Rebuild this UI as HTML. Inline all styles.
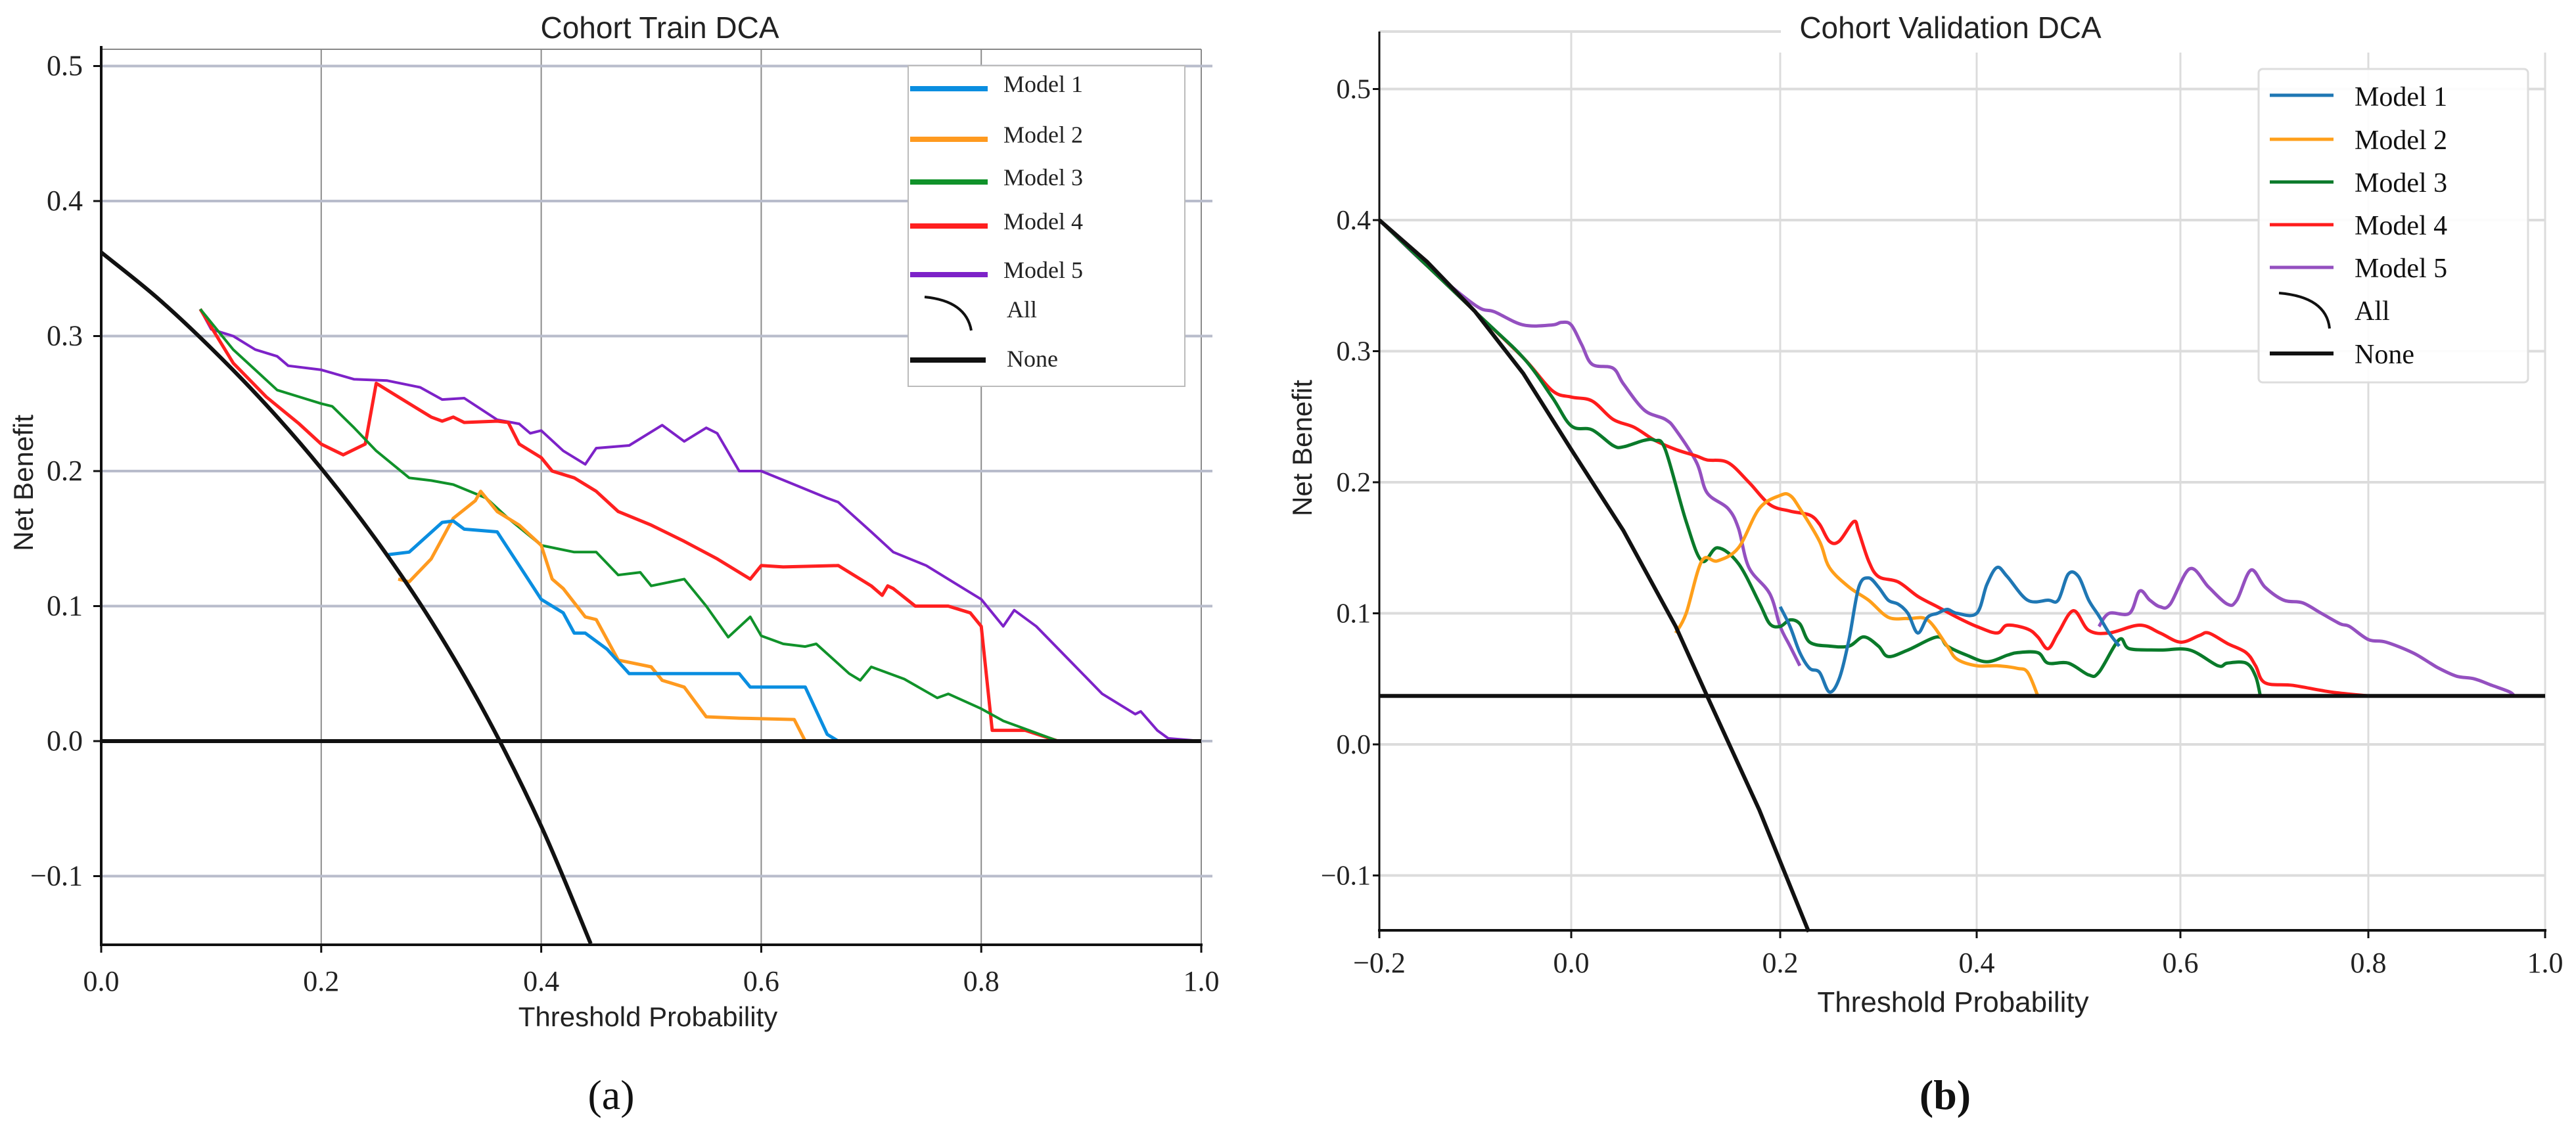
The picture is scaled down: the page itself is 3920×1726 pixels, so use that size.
<!DOCTYPE html>
<html><head><meta charset="utf-8"><style>
html,body{margin:0;padding:0;background:#fff;}
svg{display:block;}
</style></head><body>
<svg id="fig" width="3920" height="1726" viewBox="0 0 3920 1726" xmlns="http://www.w3.org/2000/svg">
<rect width="3920" height="1726" fill="#fff"/>
<g id="left"></g>
<g id="right"></g>
</svg>
<script>
// ---------- Panel (a) data ----------
const aXTicks = [0.0, 0.2, 0.4, 0.6, 0.8, 1.0];
const aYTicks = [-0.1, 0.0, 0.1, 0.2, 0.3, 0.4, 0.5];
const aAll = [[0,0.362],[0.05,0.329],[0.1,0.291],[0.15,0.249],[0.2,0.202],[0.25,0.149],[0.3,0.089],[0.35,0.019],[0.4,-0.063],[0.445,-0.15]];
const aNone = [[0,0],[1,0]];
const aM1 = [[0.26,0.138],[0.28,0.14],[0.31,0.162],[0.32,0.163],[0.33,0.157],[0.36,0.155],[0.38,0.13],[0.40,0.105],[0.42,0.095],[0.43,0.08],[0.44,0.08],[0.46,0.068],[0.48,0.05],[0.52,0.05],[0.58,0.05],[0.59,0.04],[0.64,0.04],[0.66,0.005],[0.67,0.0]];
const aM2 = [[0.27,0.12],[0.28,0.118],[0.30,0.135],[0.32,0.165],[0.34,0.178],[0.345,0.185],[0.36,0.17],[0.38,0.16],[0.40,0.145],[0.41,0.12],[0.42,0.113],[0.44,0.092],[0.45,0.09],[0.47,0.06],[0.50,0.055],[0.51,0.045],[0.53,0.04],[0.55,0.018],[0.58,0.017],[0.63,0.016],[0.64,0.0]];
const aM3 = [[0.09,0.32],[0.12,0.29],[0.14,0.275],[0.16,0.26],[0.18,0.255],[0.20,0.25],[0.21,0.248],[0.23,0.232],[0.25,0.215],[0.28,0.195],[0.30,0.193],[0.32,0.19],[0.35,0.18],[0.37,0.165],[0.40,0.145],[0.43,0.14],[0.45,0.14],[0.47,0.123],[0.49,0.125],[0.50,0.115],[0.53,0.12],[0.55,0.1],[0.57,0.077],[0.59,0.092],[0.60,0.078],[0.62,0.072],[0.64,0.07],[0.65,0.072],[0.68,0.05],[0.69,0.045],[0.70,0.055],[0.73,0.046],[0.76,0.032],[0.77,0.035],[0.80,0.024],[0.82,0.015],[0.84,0.009],[0.87,0.0],[1.0,0.0]];
const aM4 = [[0.09,0.32],[0.12,0.28],[0.15,0.255],[0.18,0.235],[0.20,0.22],[0.22,0.212],[0.24,0.22],[0.25,0.265],[0.27,0.255],[0.30,0.24],[0.31,0.237],[0.32,0.24],[0.33,0.236],[0.36,0.237],[0.37,0.236],[0.38,0.22],[0.40,0.21],[0.41,0.2],[0.43,0.195],[0.45,0.185],[0.47,0.17],[0.50,0.16],[0.53,0.148],[0.56,0.135],[0.59,0.12],[0.60,0.13],[0.62,0.129],[0.67,0.13],[0.70,0.115],[0.71,0.108],[0.715,0.115],[0.72,0.113],[0.74,0.1],[0.77,0.1],[0.79,0.095],[0.80,0.085],[0.81,0.008],[0.84,0.008],[0.87,0.0],[1.0,0.0]];
const aM5 = [[0.09,0.32],[0.1,0.305],[0.12,0.30],[0.14,0.29],[0.16,0.285],[0.17,0.278],[0.2,0.275],[0.23,0.268],[0.26,0.267],[0.29,0.262],[0.31,0.253],[0.33,0.254],[0.36,0.238],[0.38,0.235],[0.39,0.228],[0.40,0.23],[0.42,0.215],[0.44,0.205],[0.45,0.217],[0.48,0.219],[0.51,0.234],[0.53,0.222],[0.55,0.232],[0.56,0.228],[0.58,0.2],[0.60,0.2],[0.63,0.19],[0.66,0.18],[0.67,0.177],[0.70,0.155],[0.72,0.14],[0.75,0.13],[0.78,0.115],[0.80,0.105],[0.82,0.085],[0.83,0.097],[0.85,0.085],[0.88,0.06],[0.91,0.035],[0.94,0.02],[0.945,0.022],[0.96,0.008],[0.97,0.002],[1.0,0.0]];

// ---------- Panel (b) data ----------
const bXTicks = [-0.2, 0.0, 0.2, 0.4, 0.6, 0.8, 1.0];
const bYTicks = [-0.1, 0.0, 0.1, 0.2, 0.3, 0.4, 0.5];
const bAll = [[-0.2,0.4],[-0.15,0.368],[-0.1,0.33],[-0.05,0.283],[0.0,0.225],[0.05,0.163],[0.1,0.09],[0.13,0.037],[0.18,-0.05],[0.229,-0.143]];
const bNone = [[-0.2,0.037],[1.0,0.037]];
const bM1 = [[0.20,0.105],[0.21,0.09],[0.22,0.07],[0.23,0.058],[0.24,0.055],[0.25,0.04],[0.26,0.05],[0.27,0.08],[0.28,0.12],[0.29,0.127],[0.30,0.12],[0.31,0.11],[0.32,0.107],[0.33,0.1],[0.34,0.085],[0.35,0.097],[0.36,0.1],[0.37,0.103],[0.38,0.1],[0.40,0.1],[0.41,0.122],[0.42,0.135],[0.43,0.128],[0.45,0.11],[0.47,0.11],[0.48,0.11],[0.49,0.13],[0.50,0.128],[0.51,0.11],[0.52,0.098],[0.53,0.085],[0.54,0.075]];
const bM2 = [[0.10,0.085],[0.11,0.1],[0.125,0.14],[0.14,0.14],[0.16,0.15],[0.18,0.18],[0.20,0.19],[0.21,0.19],[0.22,0.18],[0.24,0.155],[0.25,0.135],[0.27,0.12],[0.29,0.11],[0.31,0.097],[0.33,0.096],[0.35,0.095],[0.37,0.075],[0.38,0.065],[0.40,0.06],[0.42,0.06],[0.44,0.058],[0.45,0.055],[0.46,0.037]];
const bM3 = [[-0.2,0.4],[-0.1,0.33],[-0.05,0.295],[-0.02,0.265],[0.0,0.243],[0.02,0.24],[0.04,0.228],[0.05,0.227],[0.07,0.232],[0.08,0.232],[0.09,0.225],[0.11,0.17],[0.125,0.14],[0.14,0.15],[0.16,0.138],[0.18,0.108],[0.19,0.092],[0.2,0.09],[0.21,0.095],[0.22,0.092],[0.23,0.078],[0.25,0.075],[0.27,0.075],[0.285,0.082],[0.30,0.075],[0.31,0.067],[0.33,0.072],[0.36,0.082],[0.37,0.075],[0.39,0.068],[0.41,0.063],[0.43,0.068],[0.44,0.07],[0.46,0.07],[0.47,0.062],[0.49,0.062],[0.51,0.053],[0.52,0.055],[0.54,0.08],[0.55,0.073],[0.58,0.072],[0.61,0.072],[0.64,0.06],[0.65,0.062],[0.67,0.062],[0.68,0.052],[0.685,0.037]];
const bM4 = [[-0.2,0.4],[-0.1,0.33],[-0.05,0.295],[-0.02,0.27],[0.0,0.265],[0.02,0.262],[0.04,0.248],[0.06,0.242],[0.08,0.232],[0.10,0.225],[0.12,0.22],[0.13,0.217],[0.15,0.215],[0.17,0.2],[0.19,0.183],[0.21,0.178],[0.23,0.175],[0.24,0.168],[0.25,0.155],[0.26,0.155],[0.275,0.17],[0.28,0.162],[0.29,0.14],[0.30,0.128],[0.32,0.124],[0.34,0.113],[0.36,0.105],[0.38,0.097],[0.40,0.09],[0.42,0.085],[0.43,0.091],[0.45,0.088],[0.46,0.082],[0.47,0.073],[0.48,0.085],[0.495,0.102],[0.51,0.087],[0.53,0.085],[0.56,0.091],[0.58,0.085],[0.60,0.078],[0.62,0.083],[0.63,0.085],[0.65,0.077],[0.67,0.07],[0.68,0.06],[0.69,0.047],[0.72,0.045],[0.76,0.04],[0.80,0.037]];
const bM5a = [[-0.2,0.4],[-0.15,0.365],[-0.1,0.335],[-0.08,0.33],[-0.05,0.32],[-0.02,0.32],[-0.01,0.322],[0.0,0.32],[0.01,0.305],[0.02,0.29],[0.04,0.287],[0.05,0.275],[0.07,0.255],[0.09,0.248],[0.10,0.24],[0.12,0.215],[0.13,0.192],[0.15,0.18],[0.16,0.165],[0.17,0.135],[0.19,0.115],[0.20,0.09],[0.21,0.075],[0.22,0.06]];
const bM5b = [[0.52,0.09],[0.53,0.1],[0.55,0.1],[0.56,0.117],[0.57,0.11],[0.58,0.105],[0.59,0.107],[0.61,0.134],[0.63,0.12],[0.65,0.107],[0.66,0.11],[0.675,0.133],[0.69,0.12],[0.71,0.11],[0.73,0.108],[0.75,0.1],[0.77,0.092],[0.78,0.09],[0.80,0.08],[0.82,0.078],[0.85,0.07],[0.87,0.062],[0.88,0.058],[0.90,0.052],[0.92,0.05],[0.94,0.045],[0.96,0.04],[0.965,0.037]];

const legendNames = ['Model 1','Model 2','Model 3','Model 4','Model 5','All','None'];
const colorsA = ['#0a8ee0','#ff9a1f','#10922a','#ff2020','#7d22c8'];
const colorsB = ['#1f77b4','#ff9f1a','#0a7a2a','#ff1c1c','#9450c0'];

const NS = 'http://www.w3.org/2000/svg';
function mk(parent, tag, attrs, text){
  const e = document.createElementNS(NS, tag);
  for (const k in attrs) e.setAttribute(k, attrs[k]);
  if (text !== undefined) e.textContent = text;
  parent.appendChild(e);
  return e;
}
const ax = v => 154 + v*(1828-154);
const ay = v => 1128 - v*2055;
const bTickPx = [2099, 2391, 2709, 3008, 3318, 3604, 3873];
function bx(v){
  const t = (v+0.2)/0.2;
  let i = Math.floor(t); if (i<0) i=0; if (i>5) i=5;
  const f = t - i;
  return bTickPx[i] + f*(bTickPx[i+1]-bTickPx[i]);
}
const by = v => 1133 - v*1995;

function pathLinear(pts, X, Y){
  return pts.map((p,i)=>(i?'L':'M')+X(p[0]).toFixed(1)+','+Y(p[1]).toFixed(1)).join(' ');
}
function pathSmooth(pts, X, Y){
  const P = pts.map(p=>[X(p[0]),Y(p[1])]);
  let d = 'M'+P[0][0].toFixed(1)+','+P[0][1].toFixed(1);
  for (let i=0;i<P.length-1;i++){
    const p0=P[i-1]||P[i], p1=P[i], p2=P[i+1], p3=P[i+2]||P[i+1];
    const c1=[p1[0]+(p2[0]-p0[0])/6, p1[1]+(p2[1]-p0[1])/6];
    const c2=[p2[0]-(p3[0]-p1[0])/6, p2[1]-(p3[1]-p1[1])/6];
    d += ' C'+c1[0].toFixed(1)+','+c1[1].toFixed(1)+' '+c2[0].toFixed(1)+','+c2[1].toFixed(1)+' '+p2[0].toFixed(1)+','+p2[1].toFixed(1);
  }
  return d;
}

// ================= Panel A =================
const L = document.getElementById('left');
aXTicks.forEach(v=>{
  const g = mk(L,'line',{x1:ax(v),x2:ax(v),y1:75,y2:1438,stroke:'#8a8a8a','stroke-width':2});
  
  
});
aYTicks.forEach(v=>{
  const g = mk(L,'line',{x1:154,x2:1845,y1:ay(v),y2:ay(v),stroke:'#b8bccb','stroke-width':4});
  
  
});
mk(L,'line',{x1:154,x2:1828,y1:75,y2:75,stroke:'#888','stroke-width':2,});
function drawA(pts,color,w,name){
  const p = mk(L,'path',{d:pathLinear(pts,ax,ay),fill:'none',stroke:color,'stroke-width':w,'stroke-linejoin':'round'});
  
  
}
drawA(aM5,colorsA[4],4,'train-model-5-line');
drawA(aM4,colorsA[3],5,'train-model-4-line');
drawA(aM3,colorsA[2],4,'train-model-3-line');
drawA(aM2,colorsA[1],5,'train-model-2-line');
drawA(aM1,colorsA[0],5,'train-model-1-line');
const aAllP = mk(L,'path',{d:pathSmooth(aAll,ax,ay),fill:'none',stroke:'#111','stroke-width':6});


const aNoneP = mk(L,'path',{d:pathLinear(aNone,ax,ay),fill:'none',stroke:'#111','stroke-width':6});


mk(L,'line',{x1:154,x2:154,y1:70,y2:1440,stroke:'#111','stroke-width':4,});
mk(L,'line',{x1:152,x2:1830,y1:1438,y2:1438,stroke:'#111','stroke-width':4,});
aXTicks.forEach(v=>{
  const t = mk(L,'line',{x1:ax(v),x2:ax(v),y1:1438,y2:1450,stroke:'#111','stroke-width':3});
  
  
  const s = mk(L,'text',{x:ax(v),y:1508,'text-anchor':'middle','font-family':'Liberation Serif, serif','font-size':44,fill:'#222'},v.toFixed(1));
  
  
});
aYTicks.forEach(v=>{
  const t = mk(L,'line',{x1:142,x2:154,y1:ay(v),y2:ay(v),stroke:'#111','stroke-width':3});
  
  
  const s = mk(L,'text',{x:126,y:ay(v)+14,'text-anchor':'end','font-family':'Liberation Serif, serif','font-size':44,fill:'#222'},(v<0?'\u2212':'')+Math.abs(v).toFixed(1));
  
  
});
mk(L,'text',{x:1004,y:58,'text-anchor':'middle','font-family':'Liberation Sans, sans-serif','font-size':46,fill:'#222',},'Cohort Train DCA');
mk(L,'text',{x:986,y:1562,'text-anchor':'middle','font-family':'Liberation Sans, sans-serif','font-size':42,fill:'#222',},'Threshold Probability');
mk(L,'text',{x:50,y:735,'text-anchor':'middle','font-family':'Liberation Sans, sans-serif','font-size':42,fill:'#222',transform:'rotate(-90 50 735)',},'Net Benefit');
mk(L,'text',{x:930,y:1688,'text-anchor':'middle','font-family':'Liberation Serif, serif','font-size':64,fill:'#111',},'(a)');
mk(L,'rect',{x:1382,y:100,width:421,height:488,fill:'#fff',stroke:'#bbb','stroke-width':2,});
const aLegY = [135,212,277,344,418,483,548];
legendNames.forEach((n,i)=>{
  const y = aLegY[i];
  if (i<5){
    const l = mk(L,'line',{x1:1385,x2:1503,y1:y,y2:y,stroke:colorsA[i],'stroke-width':8});
    
    
  } else if (i===5){
    const l = mk(L,'path',{d:'M1407,452 Q1470,458 1478,503',fill:'none',stroke:'#111','stroke-width':4});
    
    
  } else {
    const l = mk(L,'line',{x1:1385,x2:1500,y1:y,y2:y,stroke:'#111','stroke-width':8});
    
    
  }
  const t = mk(L,'text',{x:i>=5?1532:1527,y:(i===5?y:y+ (i===6?10:5)),'font-family':'Liberation Serif, serif','font-size':36,fill:'#222'},n);
  
  
});

// ================= Panel B =================
const R = document.getElementById('right');
bXTicks.forEach((v,i)=>{
  const g = mk(R,'line',{x1:bx(v),x2:bx(v),y1:i===1?48:80,y2:1416,stroke:'#dcdcdc','stroke-width':3});
  
  
});
bYTicks.forEach(v=>{
  const g = mk(R,'line',{x1:2099,x2:3873,y1:by(v),y2:by(v),stroke:'#dcdcdc','stroke-width':4});
  
  
});
mk(R,'line',{x1:2099,x2:2710,y1:48,y2:48,stroke:'#ddd','stroke-width':4,});
function drawB(pts,color,name){
  const p = mk(R,'path',{d:pathSmooth(pts,bx,by),fill:'none',stroke:color,'stroke-width':5,'stroke-linejoin':'round'});
  
  
}
drawB(bM5a,colorsB[4],'val-model-5-line');
drawB(bM5b,colorsB[4],'val-model-5-line-tail');
drawB(bM4,colorsB[3],'val-model-4-line');
drawB(bM3,colorsB[2],'val-model-3-line');
drawB(bM2,colorsB[1],'val-model-2-line');
drawB(bM1,colorsB[0],'val-model-1-line');
const bAllP = mk(R,'path',{d:pathLinear(bAll,bx,by),fill:'none',stroke:'#111','stroke-width':6,'stroke-linejoin':'round'});


const bNoneP = mk(R,'path',{d:pathLinear(bNone,bx,by),fill:'none',stroke:'#111','stroke-width':6});


mk(R,'line',{x1:2099,x2:2099,y1:48,y2:1418,stroke:'#111','stroke-width':3,});
mk(R,'line',{x1:2097,x2:3875,y1:1416,y2:1416,stroke:'#111','stroke-width':4,});
bXTicks.forEach(v=>{
  const t = mk(R,'line',{x1:bx(v),x2:bx(v),y1:1416,y2:1428,stroke:'#111','stroke-width':3});
  
  
  const s = mk(R,'text',{x:bx(v),y:1480,'text-anchor':'middle','font-family':'Liberation Serif, serif','font-size':44,fill:'#222'},(v<0?'\u2212':'')+Math.abs(v).toFixed(1));
  
  
});
bYTicks.forEach(v=>{
  const t = mk(R,'line',{x1:2089,x2:2099,y1:by(v),y2:by(v),stroke:'#111','stroke-width':3});
  
  
  const s = mk(R,'text',{x:2086,y:by(v)+14,'text-anchor':'end','font-family':'Liberation Serif, serif','font-size':42,fill:'#222'},(v<0?'\u2212':'')+Math.abs(v).toFixed(1));
  
  
});
mk(R,'text',{x:2968,y:58,'text-anchor':'middle','font-family':'Liberation Sans, sans-serif','font-size':46,fill:'#222',},'Cohort Validation DCA');
mk(R,'text',{x:2972,y:1540,'text-anchor':'middle','font-family':'Liberation Sans, sans-serif','font-size':44,fill:'#222',},'Threshold Probability');
mk(R,'text',{x:1996,y:682,'text-anchor':'middle','font-family':'Liberation Sans, sans-serif','font-size':42,fill:'#222',transform:'rotate(-90 1996 682)',},'Net Benefit');
mk(R,'text',{x:2960,y:1688,'text-anchor':'middle','font-family':'Liberation Serif, serif','font-size':64,'font-weight':'bold',fill:'#111',},'(b)');
mk(R,'rect',{x:3437,y:105,width:410,height:477,rx:6,fill:'#fff','fill-opacity':0.9,stroke:'#ddd','stroke-width':3,});
const bLegY = [145,212,277,342,407,470,538];
legendNames.forEach((n,i)=>{
  const y = bLegY[i];
  if (i<5){
    const l = mk(R,'line',{x1:3454,x2:3551,y1:y,y2:y,stroke:colorsB[i],'stroke-width':5});
    
    
  } else if (i===5){
    const l = mk(R,'path',{d:'M3468,446 Q3540,452 3545,500',fill:'none',stroke:'#111','stroke-width':4});
    
    
  } else {
    const l = mk(R,'line',{x1:3454,x2:3551,y1:y,y2:y,stroke:'#111','stroke-width':6});
    
    
  }
  const t = mk(R,'text',{x:3583,y:[161,227,292,357,422,487,553][i],'font-family':'Liberation Serif, serif','font-size':42,fill:'#111'},n);
  
  
});
</script>
</body></html>
